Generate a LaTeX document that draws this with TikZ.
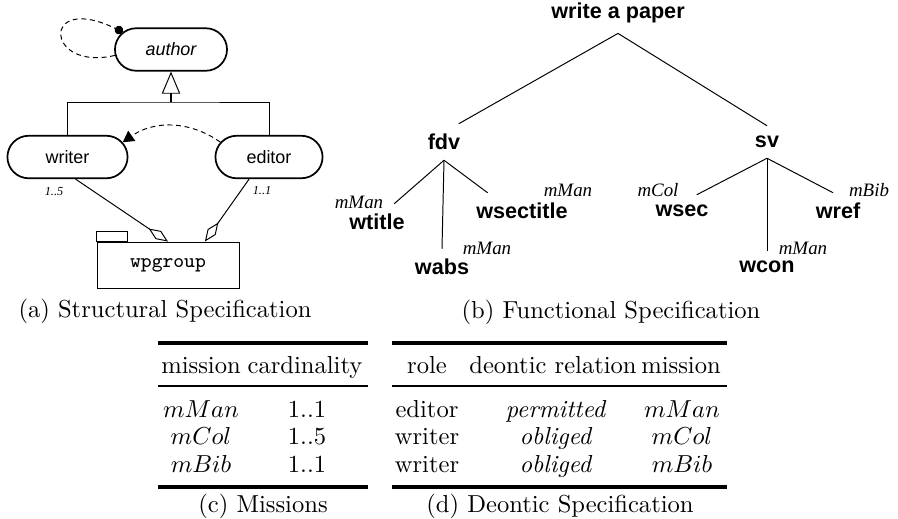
\documentclass[tikz,border=0pt]{standalone}
\usepackage{fontspec}
\newfontfamily\diagsans{Liberation Sans}
\newfontfamily\diagserif{Liberation Serif}
\usetikzlibrary{arrows.meta, shapes.misc, calc}

\begin{document}
\begin{tikzpicture}[
    x=0.407pt, y=-0.407pt,
    role/.style={draw, line width=0.7pt, rounded rectangle, minimum height=17.3pt, inner sep=1pt, font=\diagsans\fontsize{7.3}{8}\selectfont},
    group/.style={draw, line width=0.4pt, rectangle, minimum width=57.8pt, minimum height=19.1pt, inner sep=0pt, font=\ttfamily\fontsize{8.3}{9}\selectfont},
    goal/.style={inner xsep=1pt, inner ysep=4pt, font=\diagsans\bfseries\fontsize{8.8}{10}\selectfont},
    mis/.style={inner sep=0pt, font=\diagserif\itshape\fontsize{7.7}{9}\selectfont},
    card/.style={inner sep=0pt, font=\diagserif\itshape\fontsize{5}{6}\selectfont},
    cell/.style={anchor=base, inner sep=0pt},
    caption/.style={anchor=base, inner sep=0pt},
    line/.style={draw, line width=0.4pt},
    link/.style={draw, dash pattern=on 2pt off 1.5pt, line width=0.4pt},
    heavy/.style={line width=1.6pt},
    light/.style={line width=1pt},
]
\useasboundingbox (0,0) rectangle (898,518);
\node[role, minimum width=47.6pt, font=\diagsans\itshape\fontsize{7.3}{8}\selectfont] (author) at (171,49.5) {author};
\node[role, minimum width=50.9pt] (writer)  at (67.5,157) {writer};
\node[role, minimum width=45.6pt] (editor)  at (269,157)  {editor};
\node[group]                      (wpgroup) at (168,265.5) {wpgroup};
\draw[line] (wpgroup.north west) rectangle ++(31,-10);
\coordinate (genbar) at (171,102);
\draw[line] (writer.north) |- (genbar) -| (editor.north);
\draw[line width=0.8pt, -{Triangle[open, length=9pt, width=7.5pt, line width=0.4pt]}] (genbar) -- (author.south);
\draw[link, -{Circle[length=3.5pt]}] (author.186) .. controls (45,72) and (40,-8) .. (author.160);
\draw[link, -{Triangle[length=4.5pt, width=5pt]}] (editor.163) to[bend right=35] (writer.15);
\draw[line, -{Diamond[open, length=9.5pt, width=4pt]}] (writer.-70) -- (wpgroup.north);
\draw[line, -{Diamond[open, length=9.5pt, width=4pt]}] (editor.-132) -- (wpgroup.33);
\node[card] (cardw) at (54,192) {1..5};
\node[card] (carde) at (262,191) {1..1};
\node[caption] (capa) at (165,317) {(a) Structural Specification};
\node[goal] (root)      at (618,13)  {write a paper};
\node[goal] (fdv)       at (444,142) {fdv};
\node[goal] (sv)        at (767,142) {sv};
\node[goal] (wtitle)    at (377,222) {wtitle};
\node[goal] (wabs)      at (442,267) {wabs};
\node[goal] (wsectitle) at (522,211) {wsectitle};
\node[goal] (wsec)      at (682,211) {wsec};
\node[goal] (wcon)      at (767,267) {wcon};
\node[goal] (wref)      at (838,211) {wref};
\draw[line] (root.south) -- ([xshift=6pt]fdv.north);
\draw[line] (root.south) -- (sv.north);
\draw[line] (fdv.south) -- ([xshift=7pt]wtitle.north);
\draw[line] (fdv.south) -- (wabs.north);
\draw[line] (fdv.south) -- ([xshift=-14pt]wsectitle.north);
\draw[line] (sv.south) -- ([xshift=6pt]wsec.north);
\draw[line] (sv.south) -- (wcon.north);
\draw[line] (sv.south) -- ([xshift=-2pt]wref.north);
\node[mis] (mtitle)    at (359,202) {mMan};
\node[mis] (mabs)      at (487,248) {mMan};
\node[mis] (msectitle) at (568,190) {mMan};
\node[mis] (mcol)      at (658,190) {mCol};
\node[mis] (mcon)      at (803,248) {mMan};
\node[mis] (mbib)      at (869,190) {mBib};
\node[caption] (capb) at (611,318) {(b) Functional Specification};
\draw[heavy] (158,343) -- (368,343);
\draw[light] (158,386) -- (368,386);
\draw[heavy] (158,487) -- (368,487);
\node[cell] (ch1) at (201,373)   {mission};
\node[cell] (ch2) at (305,373)   {cardinality};
\node[cell] (c11) at (201,417)   {$mMan$};
\node[cell] (c12) at (307,417)   {1..1};
\node[cell] (c21) at (201,444.5) {$mCol$};
\node[cell] (c22) at (307,444.5) {1..5};
\node[cell] (c31) at (201,472)   {$mBib$};
\node[cell] (c32) at (307,472)   {1..1};
\node[caption] (capc) at (263,512) {(c) Missions};
\draw[heavy] (392,343) -- (727,343);
\draw[light] (392,386) -- (727,386);
\draw[heavy] (392,487) -- (727,487);
\node[cell] (dh1) at (427,373)   {role};
\node[cell] (dh2) at (553,373)   {deontic relation};
\node[cell] (dh3) at (681,373)   {mission};
\node[cell] (d11) at (427,417)   {editor};
\node[cell] (d12) at (556,417)   {\textit{permitted}};
\node[cell] (d13) at (682,417)   {$mMan$};
\node[cell] (d21) at (427,444.5) {writer};
\node[cell] (d22) at (556,444.5) {\textit{obliged}};
\node[cell] (d23) at (682,444.5) {$mCol$};
\node[cell] (d31) at (427,472)   {writer};
\node[cell] (d32) at (556,472)   {\textit{obliged}};
\node[cell] (d33) at (682,472)   {$mBib$};
\node[caption] (capd) at (560,512) {(d) Deontic Specification};
\end{tikzpicture}
\end{document}
